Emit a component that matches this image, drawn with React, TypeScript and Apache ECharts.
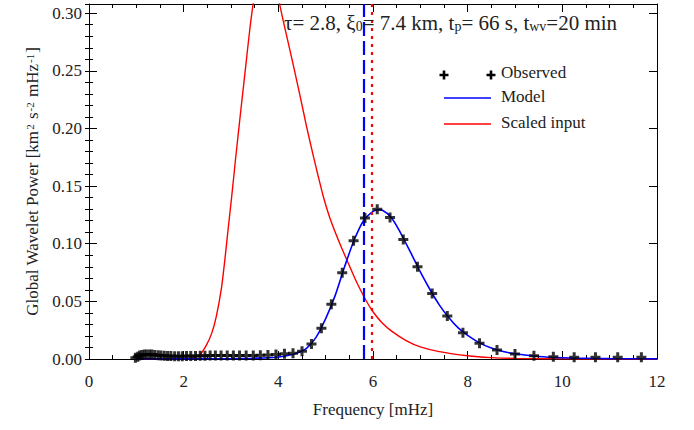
import React, { useEffect, useRef } from "react";
import * as echarts from "echarts";

// ---- data ----
const freqObs = [0.98, 1.03, 1.07, 1.12, 1.17, 1.22, 1.28, 1.33, 1.39, 1.46, 1.52, 1.59, 1.66, 1.73, 1.81, 1.89, 1.97, 2.06, 2.15, 2.25, 2.35, 2.45, 2.56, 2.67, 2.79, 2.92, 3.05, 3.18, 3.32, 3.47, 3.62, 3.78, 3.95, 4.13, 4.31, 4.5, 4.7, 4.91, 5.12, 5.35, 5.59, 5.83, 6.09, 6.36, 6.64, 6.94, 7.25, 7.57, 7.9, 8.25, 8.62, 9.0, 9.4, 9.81, 10.25, 10.7, 11.17, 11.67];
const powObs = [0.001, 0.002, 0.003, 0.0035, 0.004, 0.004, 0.004, 0.0038, 0.0035, 0.0032, 0.003, 0.0028, 0.0026, 0.0025, 0.0024, 0.0024, 0.0024, 0.0025, 0.0026, 0.0027, 0.0028, 0.0029, 0.003, 0.003, 0.003, 0.003, 0.003, 0.003, 0.003, 0.0031, 0.0033, 0.0035, 0.004, 0.0045, 0.005, 0.0067, 0.013, 0.0266, 0.0474, 0.0748, 0.1025, 0.1224, 0.13, 0.1228, 0.1037, 0.08, 0.0569, 0.0373, 0.0228, 0.0137, 0.0078, 0.0043, 0.0029, 0.002, 0.0015, 0.0015, 0.0015, 0.0015];

const freqModel = [0.98, 1.5, 2.0, 2.5, 3.0, 3.5, 3.8, 4.0, 4.2, 4.4, 4.6, 4.8, 5.0, 5.2, 5.4, 5.6, 5.8, 6.0, 6.1, 6.2, 6.4, 6.6, 6.8, 7.0, 7.2, 7.4, 7.6, 7.8, 8.0, 8.25, 8.5, 8.75, 9.0, 9.5, 10.0, 10.5, 11.0, 11.5, 12.0];
const powModel = [0, 0.0001, 0.0001, 0.0002, 0.0003, 0.0007, 0.0011, 0.0018, 0.003, 0.0052, 0.0095, 0.019, 0.035, 0.055, 0.08, 0.103, 0.12, 0.128, 0.1295, 0.129, 0.122, 0.108, 0.092, 0.0755, 0.0605, 0.047, 0.036, 0.027, 0.0205, 0.014, 0.0095, 0.0065, 0.0045, 0.0022, 0.0011, 0.0006, 0.0003, 0.0002, 0.0001];

const freqInput = [0.98, 1.5, 2.0, 2.2, 2.35, 2.48, 2.59, 2.69, 2.8, 2.87, 2.94, 3.02, 3.1, 3.2, 3.3, 3.4, 3.5, 3.6, 3.7, 3.8, 3.9, 4.0, 4.1, 4.3, 4.46, 4.6, 4.74, 4.84, 4.95, 5.1, 5.3, 5.5, 5.65, 5.85, 6.0, 6.2, 6.4, 6.7, 7.0, 7.4, 8.0, 8.5, 9.0, 10.0, 11.0, 12.0];
const powInput = [0, 0, 0.0003, 0.0012, 0.004, 0.012, 0.022, 0.037, 0.062, 0.086, 0.113, 0.143, 0.175, 0.213, 0.25, 0.287, 0.317, 0.336, 0.345, 0.343, 0.331, 0.313, 0.294, 0.258, 0.228, 0.201, 0.176, 0.159, 0.141, 0.121, 0.1, 0.081, 0.067, 0.051, 0.041, 0.031, 0.024, 0.016, 0.0105, 0.0064, 0.0028, 0.0012, 0.0005, 0.0001, 0.00002, 0];

const xTickValues = [0, 2, 4, 6, 8, 10, 12];
const yTickLabels = ["0.00", "0.05", "0.10", "0.15", "0.20", "0.25", "0.30"];
const markerFreqs = [5.81, 5.97];
const legendLabels = ["Observed", "Model", "Scaled input"];
const titleParts = ["τ= 2.8, ξ", "0", "= 7.4 km, t", "p", "= 66 s, t", "wv", "=20 min"];

const FONT = "Liberation Serif";
const TXT = "#222";
const PLUS = "path://M3.5,0H6.5V3.5H10V6.5H6.5V10H3.5V6.5H0V3.5H3.5Z";

function plusPoints(cx: number, cy: number, h: number, t: number) {
  return [
    [cx - t, cy - h], [cx + t, cy - h], [cx + t, cy - t], [cx + h, cy - t],
    [cx + h, cy + t], [cx + t, cy + t], [cx + t, cy + h], [cx - t, cy + h],
    [cx - t, cy + t], [cx - h, cy + t], [cx - h, cy - t], [cx - t, cy - t],
  ];
}

export default function App() {
  const ref = useRef<HTMLDivElement>(null);
  useEffect(() => {
    if (!ref.current) return;
    const chart = echarts.init(ref.current, undefined, { renderer: "svg" });
    const axisLine = { show: true, onZero: false, lineStyle: { color: "#000", width: 1 } };
    const labelStyle = { fontFamily: FONT, fontSize: 17, color: TXT };
    const xBase = (pos: string, showLabel: boolean) => ({
      type: "value",
      min: 0,
      max: 12,
      interval: 2,
      position: pos,
      axisLine,
      axisTick: { show: true, inside: true, length: 8, lineStyle: { color: "#000" } },
      minorTick: { show: true, splitNumber: 4, length: 4, lineStyle: { color: "#000" } },
      splitLine: { show: false },
      minorSplitLine: { show: false },
      axisLabel: showLabel
        ? {
            ...labelStyle,
            margin: 14,
            formatter: (v: number) => (xTickValues.includes(v) ? String(v) : ""),
          }
        : { show: false },
    });
    const yBase = (pos: string, major: boolean, showLabel: boolean) => ({
      type: "value",
      min: 0,
      max: 0.308,
      interval: major ? 0.05 : 0.01,
      position: pos,
      axisLine: major ? axisLine : { show: false },
      axisTick: { show: true, inside: true, length: major ? 8 : 4, lineStyle: { color: "#000" } },
      splitLine: { show: false },
      axisLabel: showLabel
        ? {
            ...labelStyle,
            margin: 7,
            formatter: (v: number) => {
              const k = v / 0.05;
              const r = Math.round(k);
              return Math.abs(k - r) < 1e-6 && r < yTickLabels.length ? yTickLabels[r] : "";
            },
          }
        : { show: false },
    });

    const yAxis: any[] = [
      {
        ...yBase("left", true, true),
        name: "{a|Global Wavelet Power [km}{s|2}{a| s}{s|-2}{a| mHz}{s|-1}{a|]}",
        nameLocation: "middle",
        nameGap: 46,
        nameTextStyle: {
          rich: {
            a: { fontFamily: FONT, fontSize: 17, color: TXT },
            s: { fontFamily: FONT, fontSize: 11, color: TXT, verticalAlign: "top", padding: [0, 1, 0, 1] },
          },
        },
      },
      yBase("left", false, false),
      yBase("right", true, false),
      yBase("right", false, false),
    ];
    const xAxis: any[] = [
      {
        ...xBase("bottom", true),
        name: "Frequency [mHz]",
        nameLocation: "middle",
        nameGap: 42,
        nameTextStyle: { fontFamily: FONT, fontSize: 17, color: TXT },
      },
      xBase("top", false),
    ];

    const legendX0 = 444;
    const legendX1 = 491;
    const legendY = [74, 98, 124];
    const graphic: any[] = [
      {
        type: "text",
        left: 284,
        top: 12,
        z: 50,
        style: {
          text:
            `{a|${titleParts[0]}}{s|${titleParts[1]}}{a|${titleParts[2]}}{s|${titleParts[3]}}` +
            `{a|${titleParts[4]}}{s|${titleParts[5]}}{a|${titleParts[6]}}`,
          rich: {
            a: { fontFamily: FONT, fontSize: 21, fill: TXT },
            s: { fontFamily: FONT, fontSize: 14, fill: TXT, verticalAlign: "bottom" },
          },
        },
      },
      { type: "polygon", shape: { points: plusPoints(legendX0, legendY[0] + 1, 4.5, 1.3) }, style: { fill: "#000" } },
      { type: "polygon", shape: { points: plusPoints(legendX1, legendY[0] + 1, 4.5, 1.3) }, style: { fill: "#000" } },
      { type: "line", shape: { x1: legendX0, y1: legendY[1], x2: legendX1, y2: legendY[1] }, style: { stroke: "#0000ff", lineWidth: 1.5 } },
      { type: "line", shape: { x1: legendX0, y1: legendY[2], x2: legendX1, y2: legendY[2] }, style: { stroke: "#ff0000", lineWidth: 1.5 } },
      ...legendLabels.map((t, i) => ({
        type: "text",
        left: 501,
        top: legendY[i] - 10,
        style: { text: t, fontFamily: FONT, fontSize: 17, fill: TXT },
      })),
    ];

    chart.setOption({
      animation: false,
      backgroundColor: "#fff",
      grid: { left: 89, right: 37, top: 4, bottom: 71, containLabel: false },
      xAxis,
      yAxis,
      graphic,
      series: [
        {
          name: "Scaled input",
          type: "line",
          data: freqInput.map((f, i) => [f, powInput[i]]),
          showSymbol: false,
          smooth: 0.2,
          clip: true,
          lineStyle: { color: "#ff0000", width: 1.4 },
          z: 2,
        },
        {
          name: "Model",
          type: "line",
          data: freqModel.map((f, i) => [f, powModel[i]]),
          showSymbol: false,
          smooth: 0.3,
          clip: true,
          lineStyle: { color: "#0000ff", width: 1.6 },
          z: 3,
          markLine: {
            silent: true,
            symbol: "none",
            label: { show: false },
            data: [
              { xAxis: markerFreqs[0], lineStyle: { color: "#0000ff", width: 2.2, type: [14, 5] } },
              { xAxis: markerFreqs[1], lineStyle: { color: "#ff0000", width: 2.2, type: [3, 5] } },
            ],
          },
        },
        {
          name: "Observed",
          type: "scatter",
          data: freqObs.map((f, i) => [f, powObs[i]]),
          symbol: PLUS,
          symbolSize: 10,
          itemStyle: { color: "#000" },
          z: 5,
        },
      ],
    });
    return () => chart.dispose();
  }, []);
  return (
    <div
      ref={ref}
      style={{ position: "absolute", left: 0, top: 0, width: 694, height: 430, background: "#fff" }}
    />
  );
}
